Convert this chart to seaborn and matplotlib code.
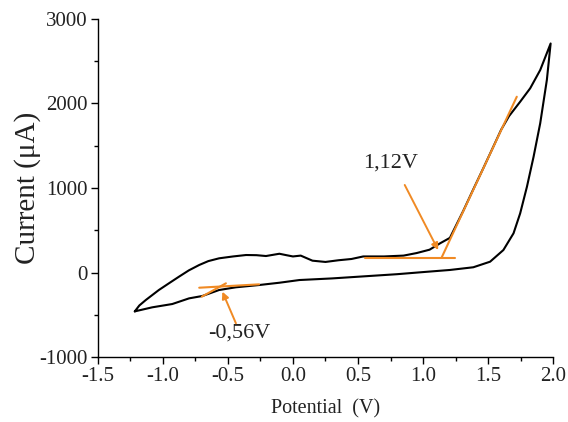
import matplotlib
matplotlib.use("Agg")
import matplotlib.pyplot as plt
import seaborn as sns
import pandas as pd
from matplotlib.ticker import MultipleLocator, FormatStrFormatter

sns.set_theme(style="ticks")
plt.rcParams['font.family'] = ['Liberation Serif', 'DejaVu Serif']
plt.rcParams['axes.unicode_minus'] = False

# Forward (anodic) branch: left vertex -> right vertex
fwd_x = [-1.215, -1.18, -1.13, -1.03, -0.95, -0.875, -0.80, -0.72, -0.65, -0.567, -0.46,
         -0.36, -0.28, -0.207, -0.15, -0.104, -0.05, 0.0, 0.06, 0.15, 0.25, 0.35, 0.45,
         0.54, 0.70, 0.85, 0.95, 1.05, 1.13, 1.206, 1.309, 1.386, 1.463, 1.54, 1.60,
         1.66, 1.746, 1.823, 1.90, 1.98]
fwd_y = [-460, -390, -325, -207, -125, -49, 25, 89, 135, 168, 190,
         207, 205, 195, 210, 222, 205, 190, 200, 140, 125, 145, 160,
         190, 190, 200, 230, 270, 345, 410, 730, 985, 1235, 1490, 1690,
         1850, 2021, 2180, 2396, 2710]
# Reverse (cathodic) branch: right vertex -> left vertex
rev_x = [1.98, 1.951, 1.90, 1.849, 1.798, 1.746, 1.695, 1.617, 1.515, 1.386, 1.206,
         1.0, 0.80, 0.50, 0.30, 0.05, -0.104, -0.259, -0.438, -0.567, -0.696, -0.798,
         -0.927, -1.081, -1.215]
rev_y = [2710, 2278, 1766, 1370, 1015, 700, 464, 266, 128, 62, 30,
         5, -20, -50, -70, -89, -121, -148, -175, -207, -278, -306,
         -373, -412, -460]

# Tangent construction lines (orange)
tan1_x = [-0.72, -0.26]
tan1_y = [-180, -140]
tan2_x = [-0.70, -0.515]
tan2_y = [-286, -128]
base_x = [0.55, 1.245]
base_y = [175, 175]
slope_x = [1.142, 1.72]
slope_y = [175, 2080]

labels = ["-0,56V", "1,12V"]
label_x = [-0.413, 0.751]
label_y = [-716, 1296]
arrow_tail_x = [-0.438, 0.859]
arrow_tail_y = [-601, 1036]
arrow_tip_x = [-0.542, 1.116]
arrow_tip_y = [-227, 266]

df = pd.DataFrame({
    "Potential": fwd_x + rev_x,
    "Current": fwd_y + rev_y,
})

fig = plt.figure(figsize=(5.68, 4.22), dpi=100)
ax = fig.add_axes([0.172, 0.154, 0.802, 0.801])

sns.lineplot(data=df, x="Potential", y="Current", sort=False, color="black",
             linewidth=1.5, ax=ax, estimator=None)

orange = "#F08A24"
for xs, ys in [(tan1_x, tan1_y), (tan2_x, tan2_y), (base_x, base_y), (slope_x, slope_y)]:
    sns.lineplot(x=xs, y=ys, color=orange, linewidth=1.5, ax=ax, sort=False, estimator=None)

for i, lab in enumerate(labels):
    ax.text(label_x[i], label_y[i], lab, ha="center", va="center", fontsize=16, color="#222222")
    ax.annotate("", xy=(arrow_tip_x[i], arrow_tip_y[i]),
                xytext=(arrow_tail_x[i], arrow_tail_y[i]),
                arrowprops=dict(arrowstyle="-|>", color=orange, lw=1.4, mutation_scale=10,
                                shrinkA=0, shrinkB=0))

ax.set_xlim(-1.5, 2.0)
ax.set_ylim(-1000, 3000)
ax.xaxis.set_major_locator(MultipleLocator(0.5))
ax.xaxis.set_minor_locator(MultipleLocator(0.25))
ax.yaxis.set_major_locator(MultipleLocator(1000))
ax.yaxis.set_minor_locator(MultipleLocator(500))
ax.xaxis.set_major_formatter(FormatStrFormatter('%.1f'))

ax.tick_params(axis="both", which="major", direction="out", length=5, width=1,
               labelsize=15, color="black", labelcolor="#222222", pad=2)
ax.tick_params(axis="both", which="minor", direction="out", length=3, width=1, color="black")

for s in ["top", "right"]:
    ax.spines[s].set_visible(False)
for s in ["left", "bottom"]:
    ax.spines[s].set_color("black")
    ax.spines[s].set_linewidth(1.0)

ax.set_xlabel("Potential  (V)", fontsize=14.5, labelpad=10, color="#222222")
ax.set_ylabel("Current (\u03bcA)", fontsize=21, labelpad=-1, color="#222222")

fig.savefig("out.png", dpi=100)
